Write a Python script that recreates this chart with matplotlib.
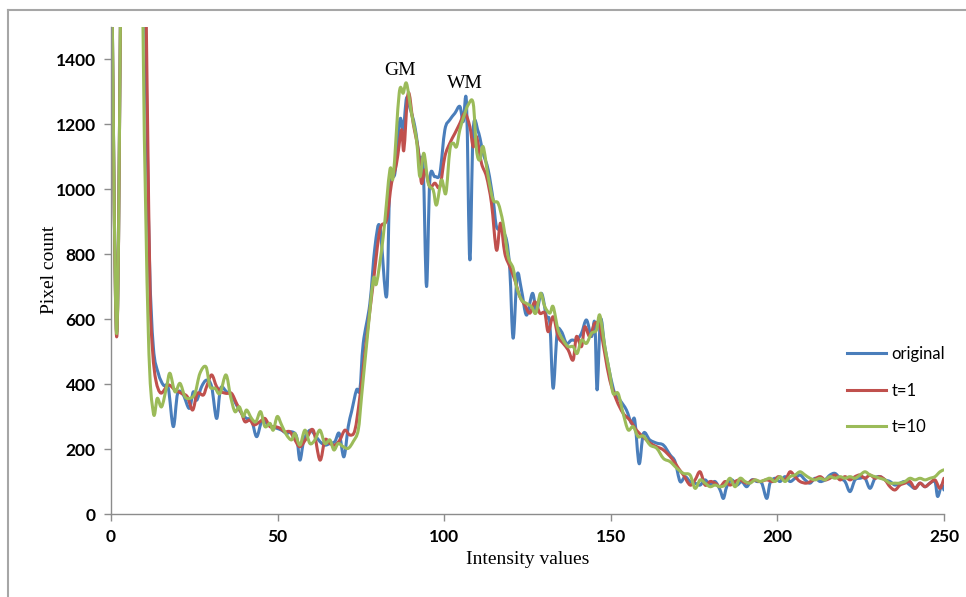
import matplotlib.pyplot as plt
from matplotlib.lines import Line2D
from matplotlib.path import Path
from matplotlib.patches import PathPatch

# ------------------------------------------------------------
# values (intensity, pixel count)
# ------------------------------------------------------------
x_original = [0, 1.7, 3.2, 5, 8, 10.4, 11.5, 12.7, 14.2, 15.7, 17.2, 18.7, 20, 21.7, 23.5, 24.7,
              25.7, 27.2, 28.7, 30.2, 31.7, 32.9, 34.7, 36.2, 37.7, 39.2, 40.7, 42.2, 43.7, 45.2,
              46.7, 48.2, 49.7, 51.2, 52.7, 54.2, 55.7, 56.7, 57.9, 59.7, 61.2, 62.7, 64.2, 65.7,
              67.2, 68.5, 69.9, 71.2, 72.2, 73.7, 74.7, 75.7, 77.7, 79.2, 80.7, 82.7, 83.7, 85.2,
              86.7, 87.7, 88.7, 89.7, 91.2, 92.7, 93.7, 94.7, 95.7, 97.2, 98.7, 100.2, 101.7, 103.2,
              104.7, 105.7, 106.7, 107.7, 108.7, 110.2, 111.7, 113.2, 114.7, 115.7, 117.2, 118.7,
              119.7, 120.7, 121.9, 123.2, 124.7, 126.5, 127.7, 129.2, 130.7, 131.7, 132.7, 133.9,
              135.2, 136.7, 138.2, 139.7, 141.2, 142.7, 144.2, 145.2, 145.9, 146.9, 148.2, 149.7,
              151.2, 152.7, 154.7, 156.2, 157.2, 158.5, 159.8, 161.7, 163.8, 165.8, 167.8, 169.3,
              170.8, 172.3, 173.8, 175.3, 176.8, 178.3, 179.8, 181.3, 182.8, 183.8, 184.8, 186.3,
              187.8, 189.3, 190.8, 192.3, 193.8, 195.3, 196.8, 197.8, 199.3, 200.8, 202.3, 203.8,
              205.3, 206.8, 208.3, 209.8, 211.3, 212.8, 214.3, 215.8, 217.3, 218.8, 220.3, 221.8,
              223.3, 224.8, 226.3, 227.8, 229.3, 230.8, 232.3, 233.8, 235.3, 236.8, 238.3, 239.8,
              241.3, 242.8, 244.3, 245.8, 247.3, 248.1, 249.3, 250]
original = [1900, 560, 1900, 3500, 3500, 1500, 800, 515, 433, 397, 387, 269, 371, 366, 325, 376,
            350, 392, 412, 392, 294, 387, 376, 366, 335, 310, 294, 289, 238, 284,
            279, 269, 264, 258, 248, 253, 238, 166, 228, 258, 243, 223, 212, 217,
            223, 248, 176, 269, 315, 382, 382, 525, 648, 820, 884, 669, 1018, 1048,
            1213, 1182, 1280, 1250, 1192, 1089, 1069, 700, 1028, 1038, 1048, 1182, 1213, 1233,
            1254, 1207, 1264, 782, 1182, 1177, 1110, 1059, 966, 884, 874, 843,
            751, 541, 735, 689, 612, 679, 623, 679, 607, 587, 387, 556,
            561, 525, 535, 535, 556, 597, 546, 587, 382, 597, 515, 433,
            371, 351, 320, 279, 289, 155, 248, 228, 218, 212, 182, 161,
            100, 115, 100, 95, 89, 105, 89, 100, 74, 48, 84, 105,
            89, 100, 84, 105, 100, 95, 48, 95, 110, 100, 115, 100,
            110, 120, 105, 95, 110, 100, 105, 120, 125, 110, 100, 69,
            105, 110, 110, 79, 110, 115, 105, 100, 89, 95, 100, 89,
            79, 95, 84, 95, 100, 54, 89, 74]

x_t1 = [0, 1.7, 3.2, 5, 8, 10.6, 11.7, 12.5, 13.5, 15, 17.2, 19.2, 21.2, 22.9, 24.5, 25.9, 27.7,
        28.7, 30.2, 31.7, 33.2, 34.7, 36.2, 37.7, 39.2, 40.2, 41.7, 42.9, 44.7, 46.2, 47.7,
        49.2, 50.7, 52.2, 53.7, 55.2, 56.7, 58.7, 60.7, 62.7, 64.2, 65.7, 67.2, 68.7, 70.2,
        71.7, 73.2, 74.7, 76.7, 78.7, 80.7, 82.7, 84.2, 85.7, 87.2, 87.9, 89.2, 90.7, 92.2,
        93.2, 94.2, 95.7, 97.2, 98.7, 100.2, 101.7, 103.2, 104.7, 106.2, 107.7, 108.7, 109.7,
        111.2, 112.7, 114.2, 115.7, 116.9, 118.2, 119.7, 121.2, 122.7, 124.2, 125.7, 127.2,
        128.7, 130.2, 131.2, 132.7, 134.2, 135.7, 137.2, 138.7, 139.7, 141.2, 142.2, 143.7,
        145.2, 146.7, 148.2, 149.7, 151.7, 153.7, 155.7, 157.7, 159.7, 161.8, 163.8, 165.8,
        168.3, 170.3, 171.8, 173.8, 175.3, 176.8, 178.3, 179.8, 181.3, 182.8, 184.3, 185.8,
        187.3, 188.8, 190.8, 192.8, 194.8, 196.8, 198.8, 200.3, 202.3, 203.8, 205.3, 206.8,
        208.8, 210.8, 212.8, 214.3, 215.8, 217.3, 218.8, 220.3, 221.8, 223.3, 224.8, 226.3,
        227.8, 229.3, 230.8, 232.3, 233.8, 235.3, 236.8, 238.3, 239.8, 241.3, 242.8, 244.3,
        245.8, 247.3, 248.8, 250]
t1 = [1900, 545, 1900, 3500, 3500, 1500, 700, 500, 410, 372, 397, 382, 371, 361, 320, 371, 366,
      392, 428, 392, 376, 371, 371, 340, 310, 284, 289, 274, 284, 294, 269,
      269, 264, 253, 253, 228, 207, 233, 258, 166, 228, 217, 212, 228, 258,
      243, 258, 361, 540, 710, 874, 905, 1018, 1079, 1182, 1120, 1295, 1202, 1120,
      1018, 1059, 1007, 1018, 1007, 1100, 1141, 1171, 1202, 1233, 1192, 1130, 1161,
      1079, 1038, 956, 812, 895, 802, 761, 720, 669, 643, 618, 653,
      618, 618, 561, 607, 546, 525, 505, 474, 546, 515, 576, 546,
      587, 576, 494, 412, 351, 310, 289, 258, 238, 218, 207, 197,
      171, 141, 120, 89, 105, 130, 89, 100, 95, 84, 100, 89,
      100, 105, 95, 105, 100, 105, 100, 115, 105, 130, 115, 100,
      95, 105, 115, 105, 110, 120, 105, 115, 105, 115, 120, 110,
      120, 110, 115, 105, 84, 74, 89, 95, 100, 79, 95, 84,
      95, 105, 79, 110]

x_t10 = [0, 1.7, 3.2, 5, 8, 9.6, 11.2, 12.7, 13.9, 15.2, 16.7, 17.7, 19.2, 20.7, 22.2, 23.7, 25.2,
         26.7, 28.5, 29.7, 31.2, 32.7, 34.5, 35.9, 37.2, 38.5, 39.7, 40.7, 42.2, 43.5, 44.9,
         46.2, 47.7, 48.7, 49.9, 51.2, 52.7, 54.2, 55.2, 56.7, 58.2, 59.7, 61.2, 62.7, 64.2,
         65.7, 66.9, 68.2, 69.7, 71.2, 72.7, 74.2, 75.2, 76.7, 78.7, 79.7, 81.7, 83.7, 84.7,
         86.5, 87.7, 88.7, 90.2, 91.7, 92.7, 93.9, 95.2, 96.7, 97.7, 99.2, 100.5, 101.7, 102.7,
         103.7, 104.7, 105.9, 107.2, 108.7, 109.7, 110.7, 111.7, 113.2, 114.7, 116.2, 117.7,
         119.2, 120.7, 121.7, 123.2, 124.7, 126.2, 127.5, 128.9, 130.2, 131.7, 132.7, 134.2,
         135.7, 137.2, 138.7, 139.9, 141.2, 142.7, 144.2, 145.7, 146.7, 148.2, 149.7, 150.7,
         152.2, 153.7, 155.2, 156.7, 158.2, 159.8, 161.8, 163.8, 165.8, 167.8, 169.8, 171.8,
         173.8, 175.3, 176.8, 178.3, 179.8, 181.3, 182.8, 184.3, 185.8, 187.3, 188.8, 190.3,
         191.8, 193.3, 194.8, 196.3, 197.8, 199.3, 200.8, 202.3, 203.8, 205.3, 206.8, 208.3,
         209.8, 211.3, 212.8, 214.3, 215.8, 217.3, 218.8, 220.3, 221.8, 223.3, 224.8, 226.3,
         227.8, 229.3, 230.8, 232.3, 233.8, 235.3, 236.8, 238.3, 239.8, 241.3, 242.8, 244.3,
         245.8, 247.3, 248.8, 250]
t10 = [1900, 555, 1900, 3500, 3500, 1500, 560, 312, 356, 330, 392, 433, 376, 402, 361, 356, 371,
       433, 453, 392, 387, 371, 428, 361, 315, 330, 300, 320, 294, 284, 315,
       269, 279, 258, 300, 274, 243, 228, 248, 212, 258, 217, 228, 258, 217,
       228, 197, 217, 207, 202, 223, 258, 361, 520, 720, 710, 853, 1059, 1038,
       1295, 1295, 1325, 1233, 1151, 1038, 1110, 1018, 997, 951, 1028, 987, 1120, 1141,
       1130, 1182, 1223, 1259, 1264, 1120, 1089, 1130, 1038, 966, 956, 894,
       792, 756, 700, 659, 648, 638, 618, 679, 638, 618, 638, 566,
       535, 515, 515, 494, 535, 525, 556, 566, 612, 515, 433, 371,
       371, 310, 259, 269, 238, 240, 212, 202, 171, 161, 141, 125,
       120, 79, 105, 95, 84, 89, 84, 89, 110, 84, 110, 100,
       95, 105, 100, 105, 110, 100, 115, 100, 115, 120, 130, 120,
       110, 105, 110, 105, 115, 110, 115, 110, 115, 110, 120, 130,
       120, 115, 110, 105, 95, 95, 95, 100, 110, 105, 110, 105,
       110, 115, 130, 136]

series_names = ['original', 't=1', 't=10']
series_colors = ['#4a7ebb', '#c0504d', '#9bbb59']


# Excel style "smoothed line": the data points are joined by bezier curves
def smooth_path(xs, ys):
    n = len(xs)
    verts = [(xs[0], ys[0])]
    codes = [Path.MOVETO]
    for i in range(n - 1):
        i0 = max(i - 1, 0)
        i3 = min(i + 2, n - 1)
        c1 = (xs[i] + (xs[i + 1] - xs[i0]) / 6, ys[i] + (ys[i + 1] - ys[i0]) / 6)
        c2 = (xs[i + 1] - (xs[i3] - xs[i]) / 6, ys[i + 1] - (ys[i3] - ys[i]) / 6)
        verts += [c1, c2, (xs[i + 1], ys[i + 1])]
        codes += [Path.CURVE4] * 3
    return Path(verts, codes)


# ------------------------------------------------------------
# figure
# ------------------------------------------------------------
fig = plt.figure(figsize=(9.66, 5.97), dpi=100)
ax = fig.add_axes([0.1149, 0.139, 0.8623, 0.8166])

for xs, ys, c in zip([x_original, x_t1, x_t10], [original, t1, t10], series_colors):
    ax.add_patch(PathPatch(smooth_path(xs, ys), fill=False, edgecolor=c, lw=2.2,
                           joinstyle='round', capstyle='round'))

ax.set_xlim(0, 250)
ax.set_ylim(0, 1500)
ax.set_xticks([0, 50, 100, 150, 200, 250])
ax.set_yticks(range(0, 1401, 200))

for s in ['top', 'right']:
    ax.spines[s].set_visible(False)
for s in ['left', 'bottom']:
    ax.spines[s].set_color('#8c8c8c')
    ax.spines[s].set_linewidth(1.0)
ax.tick_params(axis='both', direction='out', length=5, width=1.0, color='#8c8c8c',
               labelsize=12.5, pad=6)
for lbl in ax.get_xticklabels() + ax.get_yticklabels():
    lbl.set_fontfamily('Lato')
    lbl.set_fontweight('bold')

ax.set_xlabel('Intensity values', family='Liberation Serif', fontsize=14, labelpad=4)
ax.set_ylabel('Pixel count', family='Liberation Serif', fontsize=14)
ax.yaxis.set_label_coords(-0.064, 0.5)

ax.text(86.7, 1366, 'GM', family='Liberation Serif', fontsize=14, ha='center', va='center')
ax.text(106.2, 1326, 'WM', family='Liberation Serif', fontsize=14, ha='center', va='center')

handles = [Line2D([], [], color=c, lw=2.2) for c in series_colors]
leg = ax.legend(handles, series_names, loc='upper left', bbox_to_anchor=(0.866, 0.375),
                frameon=False, handlelength=2.3, labelspacing=1.22, handletextpad=0.35,
                prop={'family': 'Lato', 'size': 12})

# outer border (top and left edges only visible)
fig.add_artist(Line2D([8 / 966, 1], [1 - 10 / 597, 1 - 10 / 597], color='#a6a6a6', lw=1.5))
fig.add_artist(Line2D([8 / 966, 8 / 966], [0, 1 - 10 / 597], color='#a6a6a6', lw=1.5))

fig.savefig('out.png', dpi=100)
